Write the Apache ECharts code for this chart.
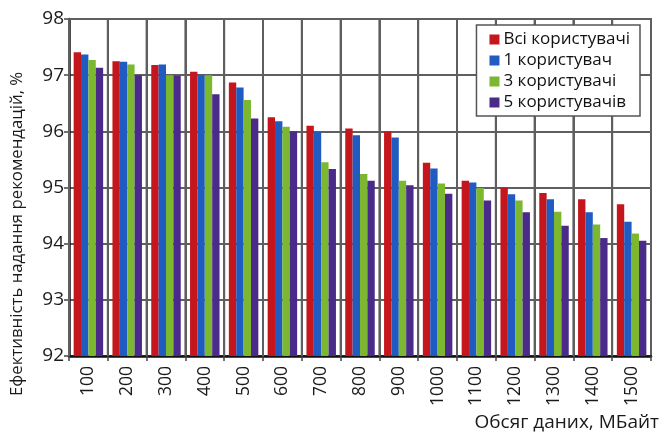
<!DOCTYPE html>
<html>
<head>
<meta charset="utf-8">
<script src="https://cdn.jsdelivr.net/npm/echarts@6/dist/echarts.min.js"></script>
<style>
  html, body { margin: 0; padding: 0; background: #fff; }
  #chart { width: 662px; height: 432px; }
</style>
</head>
<body>
<div id="chart"></div>
<script>
// Data volume, MB
const categories = ['100', '200', '300', '400', '500', '600', '700', '800', '900', '1000', '1100', '1200', '1300', '1400', '1500'];

// Recommendation efficiency, %
const allUsers   = [97.41, 97.25, 97.18, 97.06, 96.87, 96.25, 96.10, 96.05, 96.00, 95.44, 95.12, 95.00, 94.90, 94.79, 94.70];
const oneUser    = [97.37, 97.24, 97.19, 97.00, 96.78, 96.18, 95.99, 95.93, 95.89, 95.34, 95.09, 94.88, 94.79, 94.56, 94.39];
const threeUsers = [97.27, 97.19, 97.00, 97.00, 96.56, 96.08, 95.45, 95.24, 95.12, 95.07, 94.99, 94.77, 94.57, 94.34, 94.18];
const fiveUsers  = [97.13, 97.00, 96.99, 96.66, 96.23, 96.00, 95.33, 95.12, 95.04, 94.89, 94.77, 94.56, 94.32, 94.10, 94.05];

const Y_MIN = 92, Y_MAX = 98;

const seriesNames = ['Всі користувачі', '1 користувач', '3 користувачі', '5 користувачів'];
const seriesData = [allUsers, oneUser, threeUsers, fiveUsers];
const colors = ['#C4161C', '#1F5BC0', '#7CB82F', '#4B2B8A'];

const FONT = '"Open Sans", sans-serif';
const GRID_COLOR = '#5f5f5f';

const chart = echarts.init(document.getElementById('chart'));

const textGraphics = [
  {
    type: 'text',
    x: 9,
    y: 396,
    rotation: Math.PI / 2,
    style: { text: 'Ефективність надання рекомендацій, %', font: '16.8px ' + FONT, fill: '#1a1a1a', textAlign: 'left', textVerticalAlign: 'top' }
  },
  {
    type: 'text',
    x: 659,
    y: 423,
    style: { text: 'Обсяг даних, МБайт', font: '19px ' + FONT, fill: '#1a1a1a', textAlign: 'right', textVerticalAlign: 'middle' }
  }
];

chart.setOption({
  animation: false,
  color: colors,
  grid: { left: 69, right: 11, top: 19, bottom: 76 },
  legend: {
    orient: 'vertical',
    right: 22,
    top: 25,
    z: 10,
    backgroundColor: '#fff',
    borderColor: '#555',
    borderWidth: 1.5,
    borderRadius: 0,
    padding: [6, 10, 5, 13],
    itemWidth: 10,
    itemHeight: 10,
    itemGap: 4,
    icon: 'rect',
    textStyle: { fontFamily: FONT, fontSize: 17, color: '#111', padding: [0, 0, 0, -1] },
    data: seriesNames
  },
  xAxis: [
    {
      type: 'category',
      data: categories,
      boundaryGap: true,
      axisLine: { lineStyle: { color: '#111', width: 2.5 } },
      axisTick: { show: true, interval: 0, length: 5, lineStyle: { color: '#444', width: 1.5 } },
      axisLabel: { rotate: 90, interval: 0, fontFamily: FONT, fontSize: 17.5, color: '#1a1a1a', margin: 10 },
      splitLine: { show: true, interval: 0, lineStyle: { color: GRID_COLOR, width: 2 } }
    },
    {
      // top edge of the plot frame
      type: 'category',
      data: categories,
      position: 'top',
      axisLine: { show: true, lineStyle: { color: GRID_COLOR, width: 2 } },
      axisTick: { show: false },
      axisLabel: { show: false },
      splitLine: { show: false }
    }
  ],
  yAxis: [
    {
      type: 'value',
      min: Y_MIN,
      max: Y_MAX,
      interval: 1,
      axisLine: { show: true, lineStyle: { color: '#111', width: 2.5 } },
      axisTick: { show: true, length: 5, lineStyle: { color: '#444', width: 1.5 } },
      axisLabel: { fontFamily: FONT, fontSize: 19, color: '#1a1a1a', margin: 5 },
      splitLine: { show: true, lineStyle: { color: GRID_COLOR, width: 2 } }
    },
    {
      // right edge of the plot frame
      type: 'value',
      position: 'right',
      min: Y_MIN,
      max: Y_MAX,
      interval: 1,
      axisLine: { show: true, lineStyle: { color: GRID_COLOR, width: 2 } },
      axisTick: { show: false },
      axisLabel: { show: false },
      splitLine: { show: false }
    }
  ],
  graphic: textGraphics,
  series: seriesData.map((d, i) => ({
    name: seriesNames[i],
    type: 'bar',
    xAxisIndex: 0,
    yAxisIndex: 0,
    z: 2,
    data: d,
    barGap: '0%',
    barCategoryGap: '24%',
    itemStyle: { color: colors[i] }
  }))
});

// Vertical grid lines between category bands, placed through the axis scales
const c0 = chart.convertToPixel({ xAxisIndex: 0 }, categories[0]);
const c1 = chart.convertToPixel({ xAxisIndex: 0 }, categories[1]);
const band = c1 - c0;
const yTop = chart.convertToPixel({ yAxisIndex: 0 }, Y_MAX);
const yBottom = chart.convertToPixel({ yAxisIndex: 0 }, Y_MIN);
const bandLines = categories.map((c) => {
  const x = chart.convertToPixel({ xAxisIndex: 0 }, c) - band / 2;
  return {
    type: 'line',
    z: 1,
    silent: true,
    shape: { x1: x, y1: yTop, x2: x, y2: yBottom },
    style: { stroke: GRID_COLOR, lineWidth: 2 }
  };
});
chart.setOption({ graphic: textGraphics.concat(bandLines) });
</script>
</body>
</html>
